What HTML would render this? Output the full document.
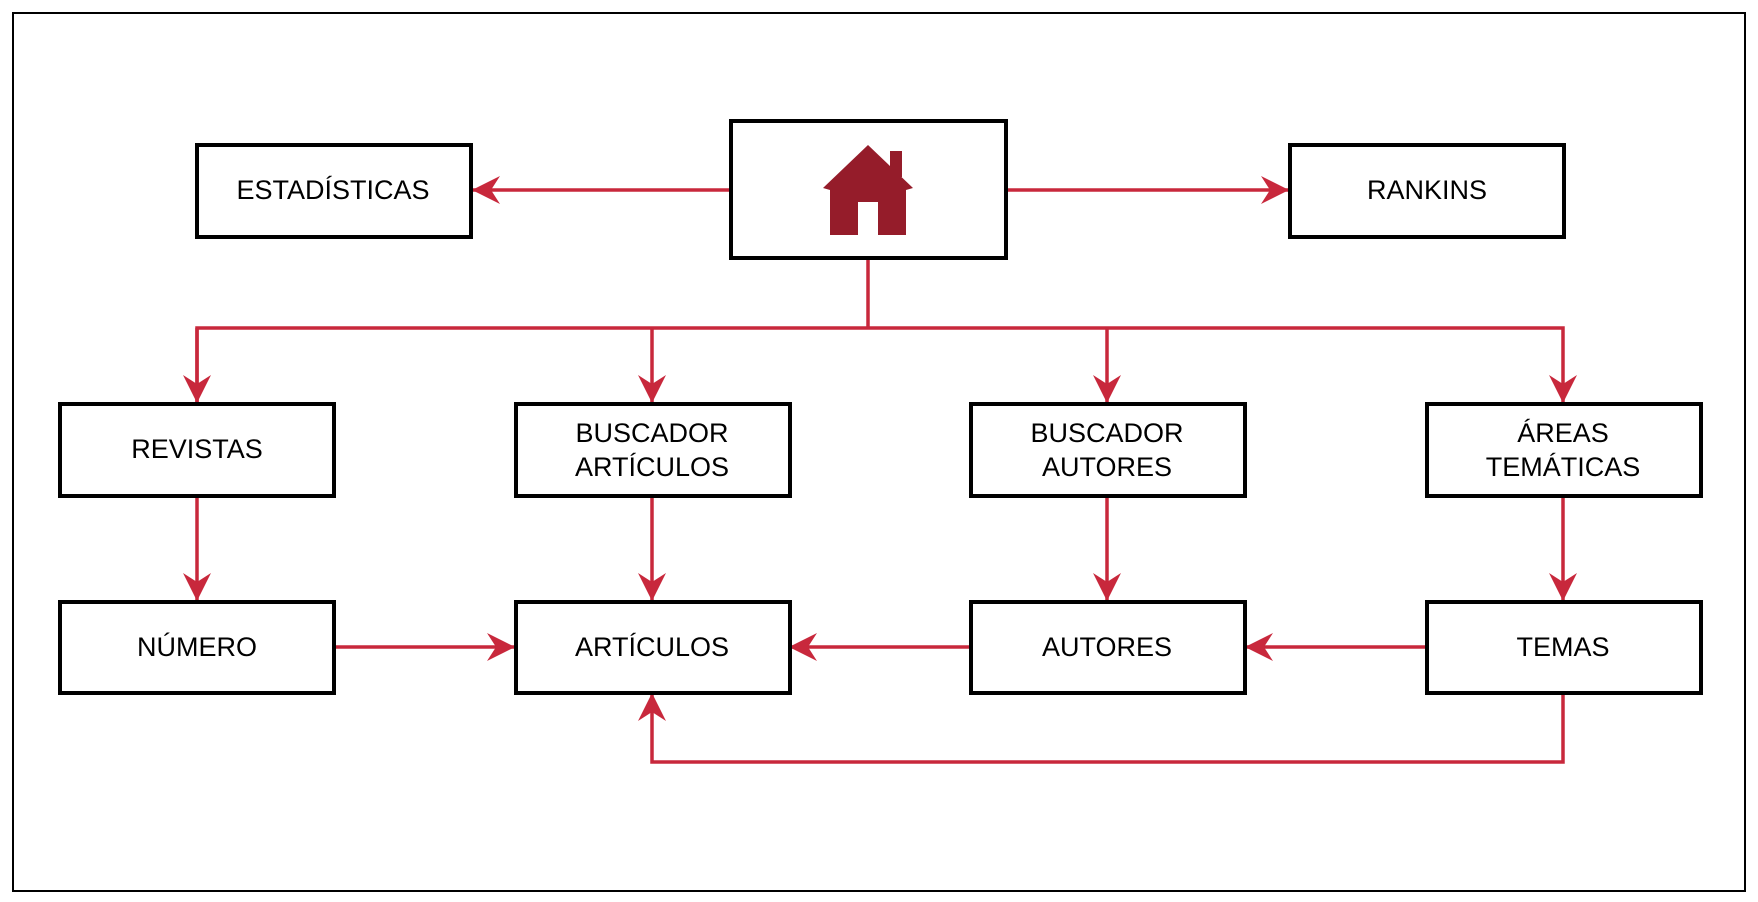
<!DOCTYPE html>
<html><head><meta charset="utf-8"><style>
html,body{margin:0;padding:0;background:#fff;}
svg{display:block;}
text{font-family:"Liberation Sans",sans-serif;font-size:27px;fill:#000;text-anchor:middle;dominant-baseline:central;}
</style></head><body>
<svg width="1758" height="902" viewBox="0 0 1758 902" xmlns="http://www.w3.org/2000/svg">
<defs>
<marker id="a" viewBox="0 0 28 28" markerWidth="28" markerHeight="28" refX="27" refY="14" orient="auto" markerUnits="userSpaceOnUse">
<path d="M0,0 L28,14 L0,28 L9,14 z" fill="#c8283c"/>
</marker>
</defs>
<rect x="13" y="13" width="1732" height="878" fill="#fff" stroke="#000" stroke-width="2"/>
<g stroke="#c8283c" stroke-width="3.5" fill="none">
<line x1="731" y1="190" x2="473" y2="190" marker-end="url(#a)"/>
<line x1="1006" y1="190" x2="1288" y2="190" marker-end="url(#a)"/>
<line x1="868" y1="259" x2="868" y2="328"/>
<polyline points="197,402 197,328 1563,328 1563,402" marker-end="url(#a)"/>
<line x1="197" y1="328" x2="197" y2="402" marker-end="url(#a)"/>
<line x1="652" y1="328" x2="652" y2="402" marker-end="url(#a)"/>
<line x1="1107" y1="328" x2="1107" y2="402" marker-end="url(#a)"/>
<line x1="197" y1="496" x2="197" y2="600" marker-end="url(#a)"/>
<line x1="652" y1="496" x2="652" y2="600" marker-end="url(#a)"/>
<line x1="1107" y1="496" x2="1107" y2="600" marker-end="url(#a)"/>
<line x1="1563" y1="496" x2="1563" y2="600" marker-end="url(#a)"/>
<line x1="334" y1="647" x2="514" y2="647" marker-end="url(#a)"/>
<line x1="970" y1="647" x2="790" y2="647" marker-end="url(#a)"/>
<line x1="1426" y1="647" x2="1246" y2="647" marker-end="url(#a)"/>
<polyline points="1563,693 1563,762 652,762 652,694" marker-end="url(#a)"/>
</g>
<g fill="#fff" stroke="#000" stroke-width="4">
<rect x="731" y="121" width="275" height="137"/>
<rect x="197" y="145" width="274" height="92"/>
<rect x="1290" y="145" width="274" height="92"/>
<rect x="60" y="404" width="274" height="92"/>
<rect x="516" y="404" width="274" height="92"/>
<rect x="971" y="404" width="274" height="92"/>
<rect x="1427" y="404" width="274" height="92"/>
<rect x="60" y="602" width="274" height="91"/>
<rect x="516" y="602" width="274" height="91"/>
<rect x="971" y="602" width="274" height="91"/>
<rect x="1427" y="602" width="274" height="91"/>
</g>
<g fill="#951c2a">
<path d="M868,145 L823,188 L830,190 L830,235 L858,235 L858,202 L878,202 L878,235 L906,235 L906,190 L913,188 Z"/>
<rect x="890" y="151" width="12" height="26"/>
</g>
<text x="333" y="190">ESTADÍSTICAS</text>
<text x="1427" y="190">RANKINS</text>
<text x="197" y="449">REVISTAS</text>
<text x="652" y="433">BUSCADOR</text>
<text x="652" y="467">ARTÍCULOS</text>
<text x="1107" y="433">BUSCADOR</text>
<text x="1107" y="467">AUTORES</text>
<text x="1563" y="433">ÁREAS</text>
<text x="1563" y="467">TEMÁTICAS</text>
<text x="197" y="647">NÚMERO</text>
<text x="652" y="647">ARTÍCULOS</text>
<text x="1107" y="647">AUTORES</text>
<text x="1563" y="647">TEMAS</text>
</svg>
</body></html>
